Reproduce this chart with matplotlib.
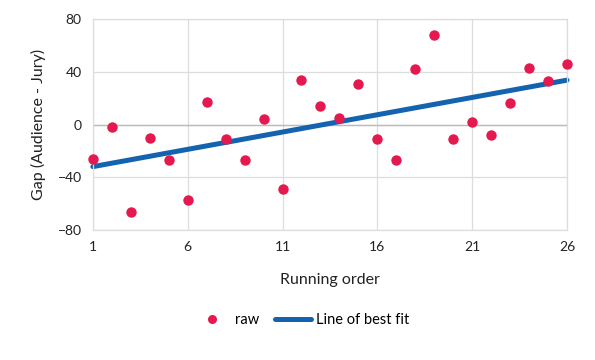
import matplotlib
matplotlib.use("Agg")
import matplotlib.pyplot as plt
import numpy as np

running_order = list(range(1, 27))
gap = [-26, -2, -66, -10, -27, -57, 17, -11, -27, 4, -49, 34,
       14, 5, 31, -11, -27, 42, 68, -11, 2, -8, 16, 43, 33, 46]

xticks = [1, 6, 11, 16, 21, 26]
yticks = [-80, -40, 0, 40, 80]

RED = "#E5194F"
BLUE = "#1363AE"

plt.rcParams["font.family"] = ["Lato", "DejaVu Sans"]

fig = plt.figure(figsize=(5.95, 3.6), dpi=100)
ax = fig.add_axes([0.156, 0.361, 0.797, 0.586])

x = np.array(running_order)
slope, intercept = np.polyfit(x, np.array(gap), 1)
fit = slope * x + intercept

ax.plot(x, gap, "o", color=RED, markersize=7.5, markeredgewidth=0, label="raw",
        zorder=3, clip_on=False)
ax.plot(x, fit, color=BLUE, lw=3.6, solid_capstyle="round", label="Line of best fit",
        zorder=2, clip_on=False)

ax.set_xlim(1, 26)
ax.set_ylim(-80, 80)
ax.set_xticks(xticks)
ax.set_yticks(yticks)
ax.grid(True, color="#DDDDDD", lw=0.9)
ax.axhline(0, color="#BBBBBB", lw=1.0, zorder=1)
ax.set_axisbelow(True)
for s in ax.spines.values():
    s.set_color("#DDDDDD")
    s.set_linewidth(0.9)
ax.tick_params(length=0, labelsize=10, colors="#222222", pad=8)

ax.set_xlabel("Running order", fontsize=11.5, color="#222222", labelpad=14)
ax.set_ylabel("Gap (Audience - Jury)", fontsize=11.5, color="#222222", labelpad=8)

leg = ax.legend(loc="upper center", bbox_to_anchor=(0.44, -0.33), ncol=2, frameon=False,
                fontsize=10.5, handlelength=2.5, columnspacing=1.1, handletextpad=0.3)
leg.legend_handles[0].set_markersize(6.5)

fig.savefig("out.png", dpi=100, facecolor="white")
